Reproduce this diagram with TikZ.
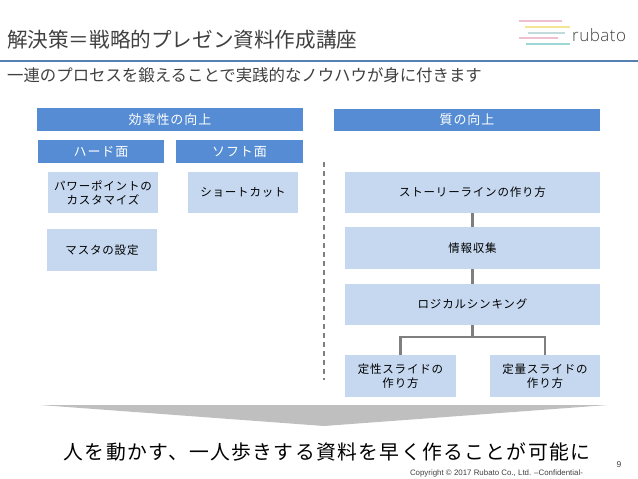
\documentclass[tikz,border=0pt]{standalone}
\usepackage{fontspec}
\usepackage{tikz}
\setmainfont{Noto Sans CJK JP}
\newfontfamily\plainjp{Noto Sans CJK JP}
\newfontfamily\spacedjp[LetterSpace=7]{Noto Sans CJK JP}
\newfontfamily\wordmark{Open Sans Light}[LetterSpace=3]
\newfontfamily\smallprint{Liberation Sans}
\definecolor{head}{RGB}{85, 140, 212}
\definecolor{light}{RGB}{198, 216, 240}
\definecolor{rule}{RGB}{84, 128, 178}
\definecolor{ink}{RGB}{64, 64, 64}
\definecolor{link}{RGB}{127, 127, 127}
\definecolor{wedge}{RGB}{191, 191, 191}
\definecolor{pinkbar}{RGB}{240, 192, 208}
\definecolor{yellowbar}{RGB}{245, 228, 145}
\definecolor{greybar}{RGB}{195, 218, 218}
\definecolor{tealbar}{RGB}{160, 215, 212}
\tikzset{
  headbox/.style={fill=head, text=white, inner sep=0pt, align=center,
    font=\spacedjp\fontsize{13}{15}\selectfont},
  itembox/.style={fill=light, text=black, inner sep=0pt, align=center,
    font=\spacedjp\fontsize{11.5}{14.2}\selectfont},
  connect/.style={draw=link, line width=2.4pt}
}

\begin{document}
\begin{tikzpicture}[x=1pt, y=-1pt]

  \useasboundingbox (0, 0) rectangle (638, 479);

  % heading
  \node[anchor=west, inner sep=0pt, text=ink, font=\plainjp\fontsize{20.6}{24}\selectfont] (title) at (7, 40) {解決策＝戦略的プレゼン資料作成講座};
  \node[anchor=west, inner sep=0pt, text=ink, font=\plainjp\fontsize{16.4}{20}\selectfont] (subtitle) at (7, 75) {一連のプロセスを鍛えることで実践的なノウハウが身に付きます};
  \fill[rule] (0, 60) rectangle (638, 62);

  % logo
  \foreach \xa/\xb/\ya/\barcol in {519/562/21/pinkbar, 525/570/27/yellowbar, 528/565/33/greybar, 519/558/38/pinkbar, 526/570/44/tealbar} {
    \draw[line width=2.8pt, \barcol] (\xa, \ya) -- (\xb, \ya);
  }
  \node[anchor=west, inner sep=0pt, text=ink, font=\wordmark\fontsize{17}{20}\selectfont] (logo) at (572, 35) {rubato};

  % left column
  \node[headbox, minimum width=266pt, minimum height=23pt] (speed) at (170, 119.5) {効率性の向上};
  \node[headbox, minimum width=126pt, minimum height=23pt] (hard) at (101, 151.5) {ハード面};
  \node[headbox, minimum width=127pt, minimum height=23pt] (soft) at (239.5, 151.5) {ソフト面};
  \node[itembox, minimum width=110pt, minimum height=41pt] (custom) at (103, 192.5) {パワーポイントの\\カスタマイズ};
  \node[itembox, minimum width=110pt, minimum height=41pt] (shortcut) at (243, 192.5) {ショートカット};
  \node[itembox, minimum width=110pt, minimum height=42pt] (master) at (102, 250) {マスタの設定};

  % right column
  \node[headbox, minimum width=266pt, minimum height=22pt] (quality) at (467, 120) {質の向上};
  \node[itembox, minimum width=255pt, minimum height=41pt] (story) at (472.5, 192.5) {ストーリーラインの作り方};
  \node[itembox, minimum width=255pt, minimum height=42pt] (research) at (472.5, 248) {情報収集};
  \node[itembox, minimum width=255pt, minimum height=41pt] (logic) at (472.5, 304.5) {ロジカルシンキング};
  \node[itembox, minimum width=111pt, minimum height=42pt] (qualitative) at (400.5, 376) {定性スライドの\\作り方};
  \node[itembox, minimum width=110pt, minimum height=42pt] (quantitative) at (545, 376) {定量スライドの\\作り方};

  \draw[connect] (story) -- (research);
  \draw[connect] (research) -- (logic);
  \draw[connect] (logic.south) -- ++(0, 12) -| (qualitative.north);
  \draw[connect] (logic.south) -- ++(0, 12) -| (quantitative.north);

  % divider
  \coordinate (divtop) at (324, 162);
  \coordinate (divend) at (324, 380);
  \draw[link, line width=1.2pt, dash pattern=on 5pt off 4pt] (divtop) -- (divend);

  % conclusion
  \fill[wedge] (40, 405) -- (608, 405) -- (324, 426) -- cycle;
  \node[inner sep=0pt, text=black, font=\spacedjp\fontsize{19.8}{24}\selectfont] (result) at (327, 452) {人を動かす、一人歩きする資料を早く作ることが可能に};

  % footer
  \node[inner sep=0pt, text=ink, font=\smallprint\fontsize{7.9}{10}\selectfont] (copyright) at (496.5, 473) {Copyright © 2017 Rubato Co., Ltd. –Confidential-};
  \node[inner sep=0pt, text=ink, font=\smallprint\fontsize{8.5}{10}\selectfont] (page) at (619, 465) {9};

\end{tikzpicture}
\end{document}
